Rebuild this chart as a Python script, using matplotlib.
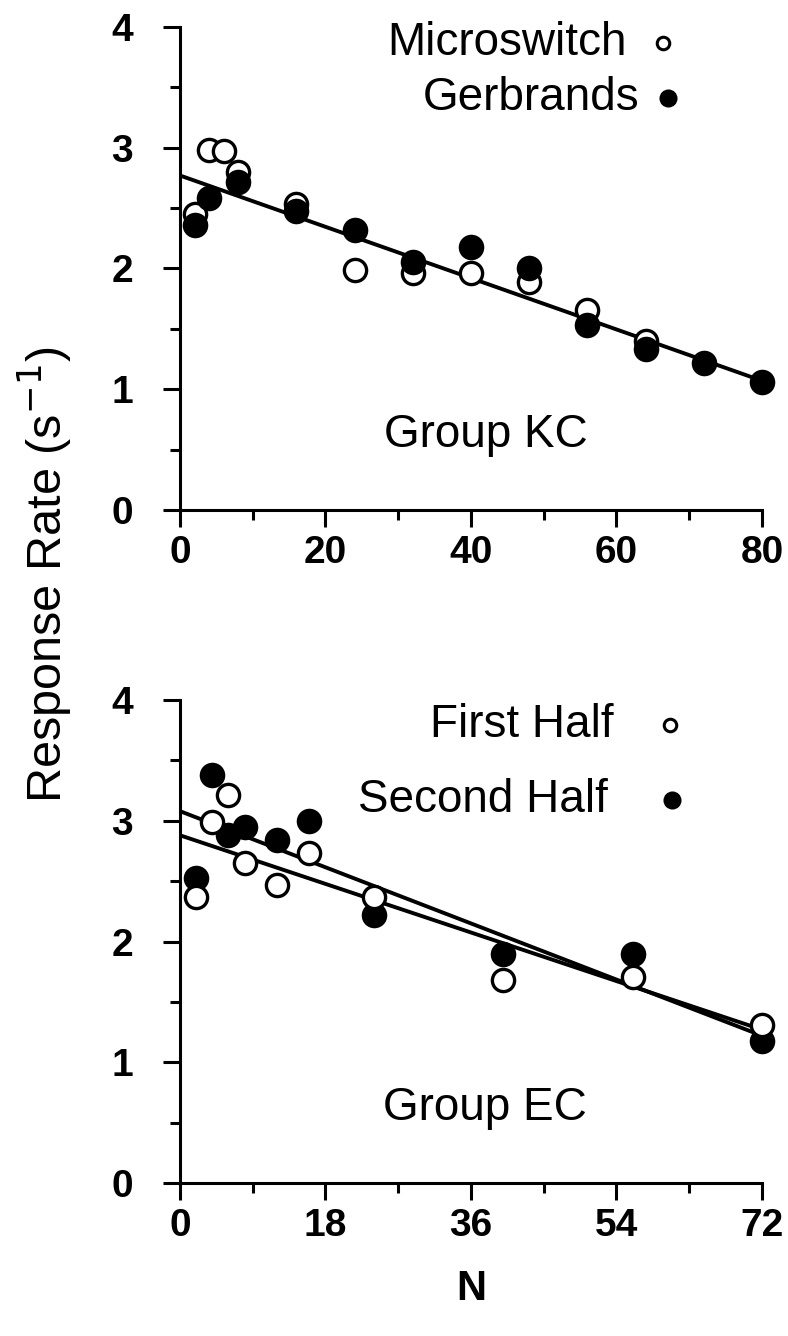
import numpy as np
import matplotlib.pyplot as plt
from matplotlib.ticker import MultipleLocator

plt.rcParams['font.family'] = ['Liberation Sans', 'DejaVu Sans']

# Group KC: response rate vs N, two lever types
kc_n_open = [2, 4, 6, 8, 16, 24, 32, 40, 48, 56, 64]
kc_open = [2.45, 2.98, 2.97, 2.80, 2.53, 1.99, 1.96, 1.96, 1.89, 1.66, 1.40]
kc_n_fill = [2, 4, 8, 16, 24, 32, 40, 48, 56, 64, 72, 80]
kc_fill = [2.36, 2.58, 2.72, 2.48, 2.32, 2.05, 2.18, 2.00, 1.53, 1.33, 1.22, 1.06]
kc_fit_n = [0, 80]
kc_fit = [2.77, 1.07]

# Group EC: first vs second half of sessions
ec_n = [2, 4, 6, 8, 12, 16, 24, 40, 56, 72]
ec_first = [2.37, 2.99, 3.21, 2.65, 2.47, 2.73, 2.37, 1.68, 1.71, 1.31]
ec_second = [2.53, 3.38, 2.88, 2.95, 2.84, 3.00, 2.22, 1.90, 1.90, 1.18]
ec_fit_n = [0, 72]
ec_fit_first = [2.88, 1.27]
ec_fit_second = [3.08, 1.22]

fig = plt.figure(figsize=(7.88, 13.36), dpi=100)
ax1 = fig.add_axes([0.2284, 0.6183, 0.7386, 0.3615])
ax2 = fig.add_axes([0.2284, 0.1145, 0.7386, 0.3615])

ms = 16
mew = 2.4
fs = 33


def style(ax, xmax, xmajor):
    ax.set_xlim(0, xmax)
    ax.set_ylim(0, 4)
    for s in ['top', 'right']:
        ax.spines[s].set_visible(False)
    for s in ['left', 'bottom']:
        ax.spines[s].set_linewidth(2.2)
    ax.xaxis.set_major_locator(MultipleLocator(xmajor))
    ax.xaxis.set_minor_locator(MultipleLocator(xmajor / 2))
    ax.yaxis.set_major_locator(MultipleLocator(1))
    ax.yaxis.set_minor_locator(MultipleLocator(0.5))
    ax.tick_params(which='major', length=12, width=2.2, labelsize=28)
    ax.tick_params(which='minor', length=7, width=2.2)
    ax.tick_params(axis='x', which='major', pad=6)
    ax.tick_params(axis='y', which='major', pad=22)
    for lab in ax.get_xticklabels() + ax.get_yticklabels():
        lab.set_fontweight('bold')


# top panel
ax1.plot(kc_fit_n, kc_fit, color='black', lw=2.8, zorder=2)
ax1.plot(kc_n_open, kc_open, 'o', ms=ms, mfc='white', mec='black', mew=mew, zorder=3)
ax1.plot(kc_n_fill, kc_fill, 'o', ms=ms, mfc='black', mec='black', mew=mew, zorder=4,
         clip_on=False)
style(ax1, 80, 20)
ax1.text(61.4, 3.87, 'Microswitch', ha='right', va='center', fontsize=fs)
ax1.plot([66.4], [3.87], 'o', ms=9, mfc='white', mec='black', mew=2.2, clip_on=False)
ax1.text(63.2, 3.41, 'Gerbrands', ha='right', va='center', fontsize=fs)
ax1.plot([67.1], [3.41], 'o', ms=12, mfc='black', mec='black', clip_on=False)
ax1.text(42, 0.62, 'Group KC', ha='center', va='center', fontsize=fs)

# bottom panel
ax2.plot(ec_fit_n, ec_fit_second, color='black', lw=2.8, zorder=2)
ax2.plot(ec_fit_n, ec_fit_first, color='black', lw=2.8, zorder=2)
ax2.plot(ec_n, ec_second, 'o', ms=ms, mfc='black', mec='black', mew=mew, zorder=3, clip_on=False)
ax2.plot(ec_n, ec_first, 'o', ms=ms, mfc='white', mec='black', mew=mew, zorder=4, clip_on=False)
style(ax2, 72, 18)
ax2.text(53.6, 3.79, 'First Half', ha='right', va='center', fontsize=fs)
ax2.plot([60.6], [3.79], 'o', ms=9, mfc='white', mec='black', mew=2.2, clip_on=False)
ax2.text(52.9, 3.17, 'Second Half', ha='right', va='center', fontsize=fs)
ax2.plot([60.9], [3.17], 'o', ms=12, mfc='black', mec='black', clip_on=False)
ax2.text(37.7, 0.62, 'Group EC', ha='center', va='center', fontsize=fs)
ax2.set_xlabel('N', fontsize=30, fontweight='bold', labelpad=18)

fig.text(0.057, 0.57, 'Response Rate (s$^{-1}$)', rotation=90, ha='center',
         va='center', fontsize=35)

plt.savefig('out.png', dpi=100)
